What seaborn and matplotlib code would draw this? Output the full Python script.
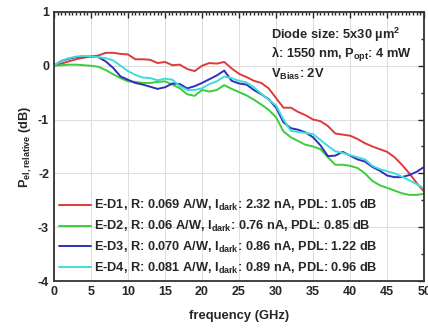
import numpy as np
import pandas as pd
import matplotlib
matplotlib.use("Agg")
import matplotlib.pyplot as plt
import seaborn as sns

# frequency grid (GHz) and relative electrical power (dB)
freq = list(range(0, 51))

ed1 = [0, 0.04, 0.08, 0.12, 0.15, 0.17, 0.19, 0.24, 0.24, 0.22,
       0.21, 0.12, 0.12, 0.11, 0.05, 0.07, 0.01, 0.02, -0.06, -0.10,
       0.0, 0.05, 0.04, 0.07, -0.05, -0.15, -0.21, -0.28, -0.32, -0.42,
       -0.60, -0.78, -0.78, -0.86, -0.92, -1.00, -1.03, -1.12, -1.26, -1.28,
       -1.30, -1.36, -1.44, -1.50, -1.55, -1.60, -1.70, -1.84, -2.00, -2.18,
       -2.34]
ed2 = [0, 0.01, 0.02, 0.02, 0.01, 0.0, -0.02, -0.08, -0.16, -0.23,
       -0.29, -0.30, -0.32, -0.32, -0.30, -0.29, -0.35, -0.42, -0.53, -0.56,
       -0.45, -0.48, -0.45, -0.36, -0.43, -0.49, -0.55, -0.63, -0.72, -0.82,
       -0.96, -1.22, -1.33, -1.40, -1.47, -1.50, -1.55, -1.70, -1.84, -1.84,
       -1.86, -1.90, -2.00, -2.14, -2.22, -2.27, -2.32, -2.37, -2.40, -2.40,
       -2.38]
ed3 = [0, 0.09, 0.13, 0.16, 0.17, 0.17, 0.16, 0.08, -0.04, -0.20,
       -0.26, -0.32, -0.35, -0.39, -0.43, -0.40, -0.33, -0.34, -0.42, -0.38,
       -0.32, -0.25, -0.18, -0.09, -0.28, -0.33, -0.35, -0.45, -0.53, -0.62,
       -0.78, -1.05, -1.16, -1.19, -1.24, -1.33, -1.48, -1.68, -1.67, -1.60,
       -1.67, -1.74, -1.78, -1.88, -1.95, -2.04, -2.07, -2.07, -2.03, -1.97,
       -1.88]
ed4 = [0, 0.09, 0.14, 0.17, 0.18, 0.17, 0.16, 0.14, 0.10, 0.0,
       -0.10, -0.17, -0.22, -0.23, -0.27, -0.24, -0.26, -0.38, -0.45, -0.45,
       -0.42, -0.34, -0.29, -0.20, -0.23, -0.28, -0.31, -0.40, -0.52, -0.63,
       -0.74, -1.00, -1.21, -1.23, -1.25, -1.27, -1.38, -1.49, -1.59, -1.62,
       -1.66, -1.70, -1.74, -1.86, -1.92, -1.96, -2.00, -2.06, -2.13, -2.20,
       -2.28]

labels = [
    "E-D1, R: 0.069 A/W, I$_{dark}$: 2.32 nA, PDL: 1.05 dB",
    "E-D2, R: 0.06 A/W, I$_{dark}$: 0.76 nA, PDL: 0.85 dB",
    "E-D3, R: 0.070 A/W, I$_{dark}$: 0.86 nA, PDL: 1.22 dB",
    "E-D4, R: 0.081 A/W, I$_{dark}$: 0.89 nA, PDL: 0.96 dB",
]
colors = ["#dd3b3b", "#3ccc3c", "#2f2fbf", "#3fdcdc"]

df = pd.concat([
    pd.DataFrame({"freq": freq, "p": vals, "dev": lab})
    for vals, lab in zip([ed1, ed2, ed3, ed4], labels)
])

sns.set_style("white")
plt.rcParams["font.family"] = ["Liberation Sans", "DejaVu Sans"]
plt.rcParams["font.weight"] = "bold"
plt.rcParams["mathtext.default"] = "regular"
plt.rcParams["axes.unicode_minus"] = False

fig = plt.figure(figsize=(4.28, 3.31), dpi=100)
ax = fig.add_axes([0.126, 0.151, 0.865, 0.813])

sns.lineplot(data=df, x="freq", y="p", hue="dev", palette=colors,
             linewidth=1.4, ax=ax)

ax.set_xlim(0, 50)
ax.set_ylim(-4, 1)
ax.set_xticks(np.arange(0, 51, 5))
ax.set_xticks(np.arange(0, 50.1, 0.5), minor=True)
ax.set_yticks(np.arange(-4, 1.1, 1))
ax.set_yticks(np.arange(-4, 1.1, 0.5), minor=True)
ax.grid(True, which="major", color="#dddddd", linewidth=0.7)
ax.tick_params(which="both", direction="in", top=True, right=True,
               labelsize=9, width=1)
ax.tick_params(which="major", length=4)
ax.tick_params(which="minor", length=2)
for s in ax.spines.values():
    s.set_linewidth(1.3)
    s.set_color("#333333")
for t in ax.get_xticklabels() + ax.get_yticklabels():
    t.set_fontweight("bold")

ax.set_xlabel("frequency (GHz)", fontsize=9.4, fontweight="bold", labelpad=9)
ax.set_ylabel("P$_{el,relative}$ (dB)", fontsize=9.2, fontweight="bold",
              labelpad=3)

ax.text(0.586, 0.9, "Diode size: 5x30 µm$^2$", transform=ax.transAxes,
        fontsize=9.3, fontweight="bold")
ax.text(0.586, 0.83, "λ: 1550 nm, P$_{opt}$: 4 mW", transform=ax.transAxes,
        fontsize=9.3, fontweight="bold")
ax.text(0.586, 0.755, "V$_{Bias}$: 2V", transform=ax.transAxes,
        fontsize=9.3, fontweight="bold")

leg = ax.legend(loc="lower left", frameon=False, handlelength=2.5,
                handletextpad=0.25, labelspacing=0.45, borderaxespad=0.1,
                borderpad=0.3, prop={"size": 9.2, "weight": "bold"})

fig.savefig("out.png", dpi=100)
